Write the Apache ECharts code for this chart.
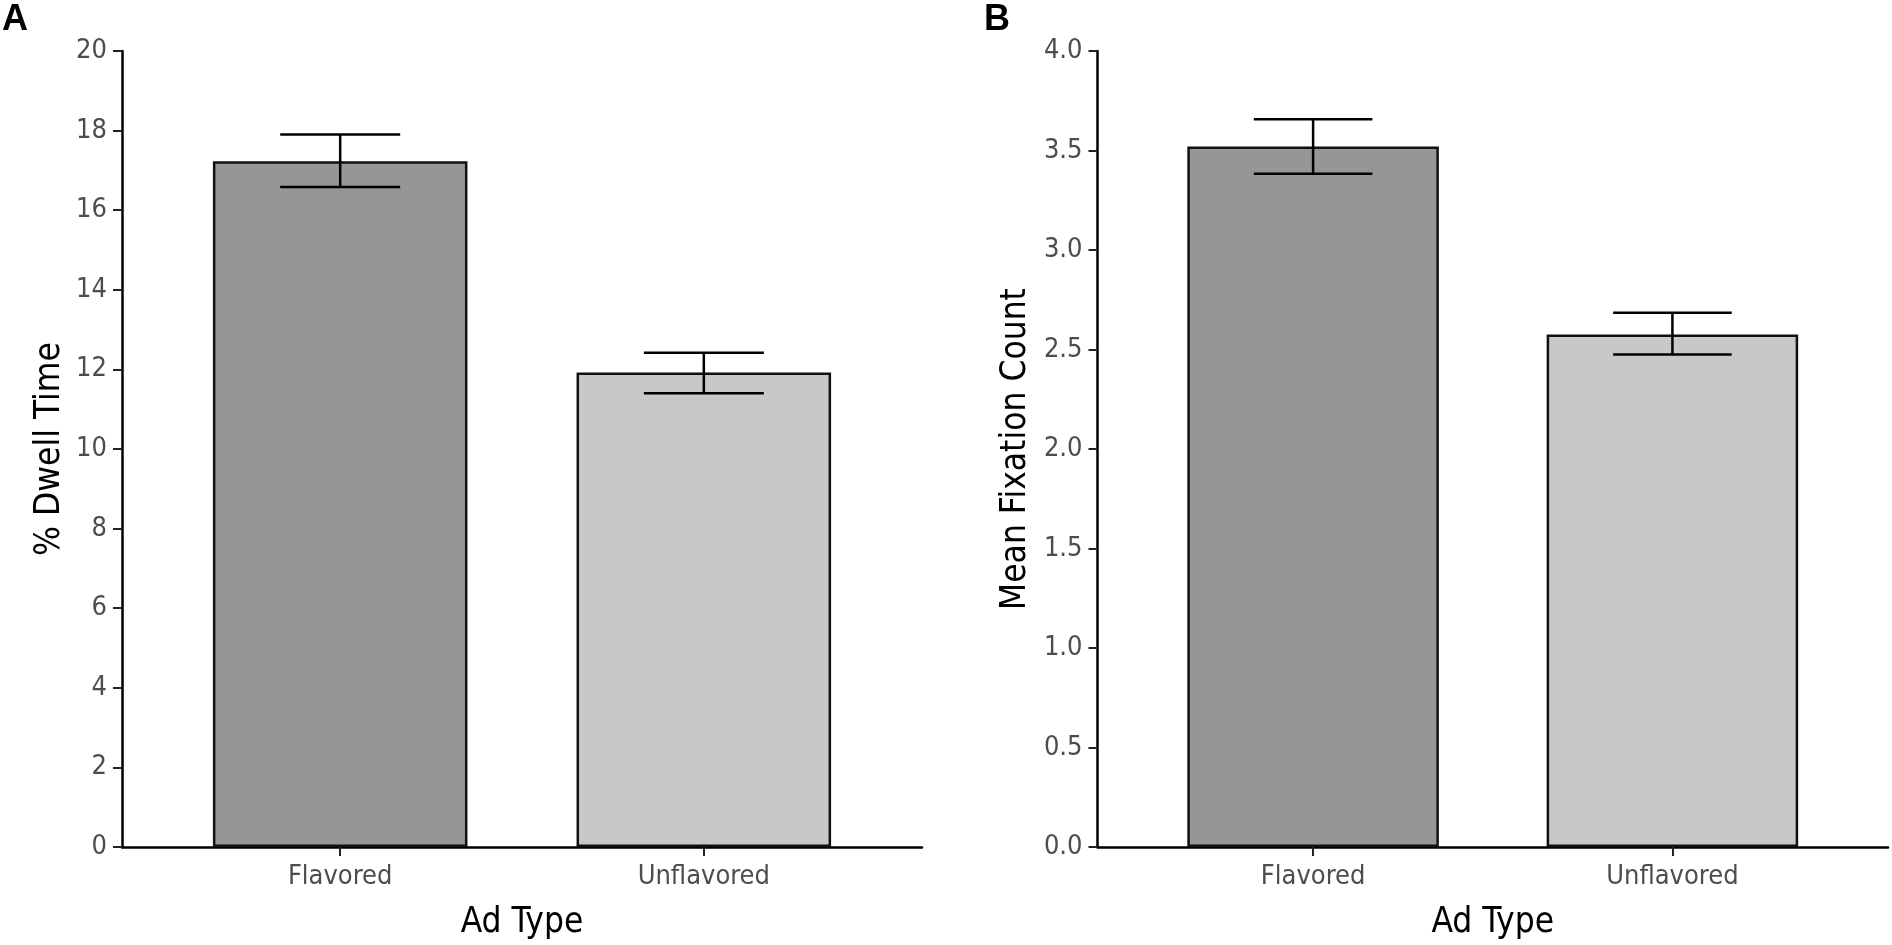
<!DOCTYPE html>
<html>
<head>
<meta charset="utf-8">
<script src="https://cdn.jsdelivr.net/npm/echarts@6/dist/echarts.min.js"></script>
<style>
html,body{margin:0;padding:0;background:#fff;}
#chart{width:1892px;height:945px;}
</style>
</head>
<body>
<div id="chart"></div>
<script>
// ---- data ----
const categories = ['Flavored', 'Unflavored'];
const dwellMean = [17.23, 11.92];
const dwellLow  = [16.58, 11.40];
const dwellHigh = [17.90, 12.42];
const fixMean = [3.52, 2.576];
const fixLow  = [3.383, 2.475];
const fixHigh = [3.657, 2.685];
const dwellTicks = [0, 20, 2];   // min, max, interval
const fixTicks = [0, 4, 0.5];
const barColors = ['#969696', '#c8c8c8'];

const FONT = '"Liberation Sans Narrow", "Arial Narrow", "DejaVu Sans Condensed", sans-serif';
const chart = echarts.init(document.getElementById('chart'));

const grids = [
  {left: 122, top: 51, width: 800, height: 797.5},
  {left: 1097.5, top: 51, width: 790.5, height: 797.5}
];
const xMin = 0.4, xMax = 2.6;

function xAxisFor(i) {
  return {
    type: 'value', gridIndex: i, min: xMin, max: xMax,
    name: 'Ad Type', nameLocation: 'middle', nameGap: 58,
    nameTextStyle: {fontFamily: FONT, fontSize: 35, color: '#000'},
    axisLine: {show: true, onZero: false, lineStyle: {color: '#000', width: 2.5}},
    axisTick: {show: true, length: 9, lineStyle: {color: '#222', width: 2}, customValues: [1, 2]},
    axisLabel: {show: true, margin: 16, fontFamily: FONT, fontSize: 27, color: '#4d4d4d',
      customValues: [1, 2], formatter: v => categories[Math.round(v) - 1] || ''},
    splitLine: {show: false}
  };
}
function yAxisFor(i, ticks, name, dec) {
  return {
    type: 'value', gridIndex: i, min: ticks[0], max: ticks[1], interval: ticks[2],
    name: name, nameLocation: 'middle', nameGap: dec ? 64 : 55,
    nameTextStyle: {fontFamily: FONT, fontSize: 35, color: '#000'},
    axisLine: {show: true, lineStyle: {color: '#000', width: 2.5}},
    axisTick: {show: true, length: 9, lineStyle: {color: '#222', width: 2}},
    axisLabel: {margin: 15, fontFamily: FONT, fontSize: 27, color: '#4d4d4d',
      formatter: v => dec ? v.toFixed(1) : String(v)},
    splitLine: {show: false}
  };
}

function barSeries(i, means) {
  const unit = grids[i].width / (xMax - xMin);
  return {
    type: 'bar', xAxisIndex: i, yAxisIndex: i,
    barWidth: unit * 0.7,
    data: means.map((m, k) => ({value: [k + 1, m], itemStyle: {color: barColors[k]}})),
    itemStyle: {borderColor: '#111', borderWidth: 2.5},
    z: 2
  };
}
function errSeries(i, low, high) {
  return {
    type: 'custom', xAxisIndex: i, yAxisIndex: i, z: 5,
    data: low.map((l, k) => [k + 1, l, high[k]]),
    renderItem: function (params, api) {
      const x = api.value(0);
      const lo = api.coord([x, api.value(1)]);
      const hi = api.coord([x, api.value(2)]);
      const hw = api.size([0.33, 0])[0] / 2;
      const st = {stroke: '#000', lineWidth: 2.5, fill: null};
      return {type: 'group', children: [
        {type: 'line', shape: {x1: hi[0], y1: hi[1], x2: lo[0], y2: lo[1]}, style: st},
        {type: 'line', shape: {x1: hi[0] - hw, y1: hi[1], x2: hi[0] + hw, y2: hi[1]}, style: st},
        {type: 'line', shape: {x1: lo[0] - hw, y1: lo[1], x2: lo[0] + hw, y2: lo[1]}, style: st}
      ]};
    }
  };
}

chart.setOption({
  animation: false,
  backgroundColor: '#fff',
  title: [
    {text: 'A', left: 0, top: 0, padding: [2, 2], textStyle: {fontFamily: '"Liberation Sans", Arial, sans-serif', fontWeight: 'bold', fontSize: 36, color: '#000'}},
    {text: 'B', left: 982, top: 0, padding: [2, 2], textStyle: {fontFamily: '"Liberation Sans", Arial, sans-serif', fontWeight: 'bold', fontSize: 36, color: '#000'}}
  ],
  grid: grids,
  xAxis: [xAxisFor(0), xAxisFor(1)],
  yAxis: [
    yAxisFor(0, dwellTicks, '% Dwell Time', false),
    yAxisFor(1, fixTicks, 'Mean Fixation Count', true)
  ],
  series: [
    barSeries(0, dwellMean), errSeries(0, dwellLow, dwellHigh),
    barSeries(1, fixMean), errSeries(1, fixLow, fixHigh)
  ]
});
</script>
</body>
</html>
